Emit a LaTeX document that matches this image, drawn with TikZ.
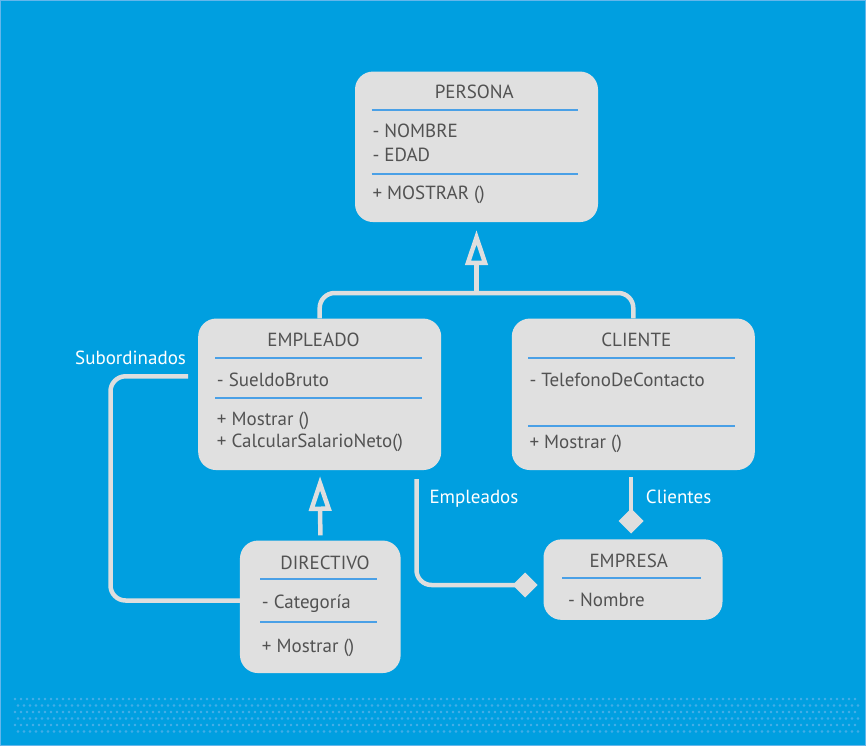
\documentclass[tikz,border=0pt]{standalone}
\usepackage{fontspec}
\setmainfont{PT Sans}
\usetikzlibrary{arrows.meta}
\definecolor{bgblue}{RGB}{0,159,224}
\definecolor{dotblue}{RGB}{100,182,235}
\definecolor{boxgray}{RGB}{224,224,224}
\definecolor{linkgray}{RGB}{222,222,222}
\definecolor{ruleblue}{RGB}{74,160,230}
\definecolor{txtgray}{RGB}{82,82,82}
\begin{document}
\begin{tikzpicture}[x=1pt, y=-1pt,
  umlbox/.style={fill=boxgray, rounded corners=18pt, inner sep=0pt},
  divider/.style={draw=ruleblue, line width=2pt},
  member/.style={anchor=base west, inner sep=0pt, text=txtgray, font=\fontsize{19}{22}\selectfont},
  classname/.style={member, anchor=base},
  role/.style={member, text=white},
  link/.style={draw=linkgray, line width=4.5pt, rounded corners=15pt},
  inherit/.style={link, -{Triangle[open, length=35pt, width=22pt]}},
  owner/.style={link, -{Diamond[length=25pt, width=25pt]}}]
\fill[bgblue] (0,0) rectangle (866,746);
\useasboundingbox (0,0) rectangle (866,746);
\draw[dotblue, line width=1.2pt] (0.6,0.6) rectangle (865.4,745.4);
\foreach \r in {0,...,5}
  \foreach \c in {0,...,140}
    \draw[dotblue!80!bgblue, line width=0.6pt] ({15+6*\c+3*mod(\r,2)}, {699+6.5*\r}) circle (1pt);
\node[umlbox, minimum width=243pt, minimum height=150.5pt] (persona) at (476.5,146.8) {};
\node[umlbox, minimum width=243pt, minimum height=151.5pt] (empleado) at (319.7,394.3) {};
\node[umlbox, minimum width=243pt, minimum height=151.5pt] (cliente) at (633.3,394.3) {};
\node[umlbox, minimum width=160.7pt, minimum height=132.5pt] (directivo) at (320.3,606.8) {};
\node[umlbox, minimum width=179pt, minimum height=80.5pt] (empresa) at (633,579.6) {};
\node[classname] (personaT) at (474.3,98.7) {PERSONA};
\draw[divider] (371.7,110.3) -- (578.3,110.3);
\node[member] (personaA) at (372.3,138) {- NOMBRE};
\node[member] (personaB) at (372.3,161.3) {- EDAD};
\draw[divider] (371.7,174.3) -- (578.3,174.3);
\node[member] (personaM) at (372.3,199.7) {+ MOSTRAR ()};
\node[classname] (empleadoT) at (313.5,346.5) {EMPLEADO};
\draw[divider] (215,358) -- (421.7,358);
\node[member] (empleadoA) at (216.7,386) {- SueldoBruto};
\draw[divider] (215,398.3) -- (421.7,398.3);
\node[member] (empleadoM) at (216.7,425) {+ Mostrar ()};
\node[member] (empleadoN) at (216.7,447) {+ CalcularSalarioNeto()};
\node[classname] (clienteT) at (636.3,346.7) {CLIENTE};
\draw[divider] (528.3,358.3) -- (735,358.3);
\node[member] (clienteA) at (529.3,386) {- TelefonoDeContacto};
\draw[divider] (528.3,425.7) -- (735,425.7);
\node[member] (clienteM) at (529.3,448.3) {+ Mostrar ()};
\node[classname] (directivoT) at (325,569) {DIRECTIVO};
\draw[divider] (260,579.3) -- (376.7,579.3);
\node[member] (directivoA) at (261.7,608) {- Categoría};
\draw[divider] (260,621.7) -- (376.7,621.7);
\node[member] (directivoM) at (261.7,652) {+ Mostrar ()};
\node[classname] (empresaT) at (628.8,567) {EMPRESA};
\draw[divider] (562.3,578.3) -- (701,578.3);
\node[member] (empresaA) at (568,606) {- Nombre};
\coordinate (join) at (476.5,293);
\coordinate (genTip) at (476.5,230);
\coordinate (dirTip) at (320,476);
\coordinate (subStart) at (188,376.3);
\coordinate (empStart) at (416.5,479);
\coordinate (empTip) at (537.5,585);
\coordinate (cliStart) at (631,477);
\coordinate (cliTip) at (631,533.5);
\draw[link] (empleado.north) |- (join) -| (cliente.north);
\draw[inherit] (join) -- (genTip);
\draw[inherit] ([yshift=5pt]directivo.north) -- (dirTip);
\draw[link] (subStart) -| (110.5,600.5) -- (directivo.west |- 0,600.5);
\draw[owner] (empStart) |- (empTip);
\draw[owner] (cliStart) -- (cliTip);
\node[role] (subLabel) at (75,364) {Subordinados};
\node[role] (empLabel) at (429.3,503) {Empleados};
\node[role] (cliLabel) at (645.7,503) {Clientes};
\end{tikzpicture}
\end{document}
